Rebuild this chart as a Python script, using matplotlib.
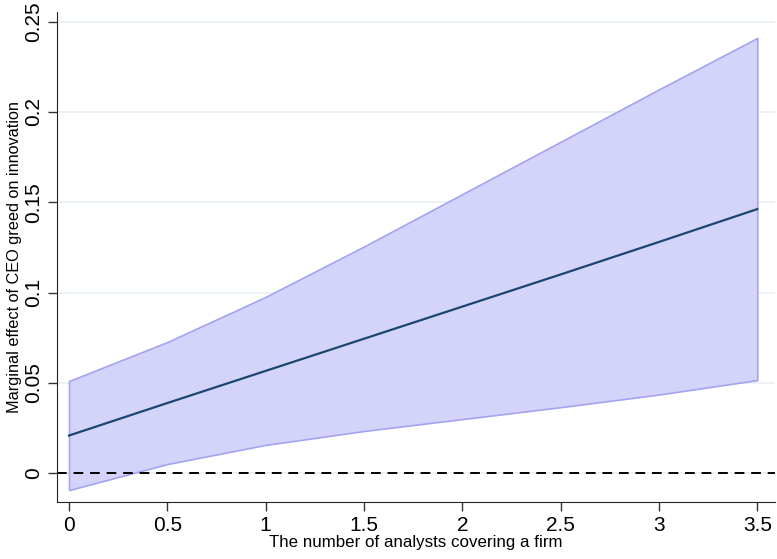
import matplotlib.pyplot as plt

plt.rcParams['font.family'] = ['Liberation Sans Narrow', 'Liberation Sans', 'DejaVu Sans']

# analyst coverage values and marginal effect with 95% CI
x = [0, 0.5, 1, 1.5, 2, 2.5, 3, 3.5]
effect = [0.0208, 0.0388, 0.0566, 0.0744, 0.0922, 0.1100, 0.1280, 0.1462]
upper = [0.0510, 0.0726, 0.0976, 0.1255, 0.1545, 0.1835, 0.2125, 0.2410]
lower = [-0.0094, 0.0050, 0.0156, 0.0233, 0.0299, 0.0365, 0.0435, 0.0515]

xticks = [0, 0.5, 1, 1.5, 2, 2.5, 3, 3.5]
xticklabels = ['0', '0.5', '1', '1.5', '2', '2.5', '3', '3.5']
yticks = [0, 0.05, 0.1, 0.15, 0.2, 0.25]
yticklabels = ['0', '0.05', '0.1', '0.15', '0.2', '0.25']

fig = plt.figure(figsize=(7.77, 5.59), dpi=100)
ax = fig.add_axes([0.0734, 0.102, 0.924, 0.877])

# grid
for y in yticks:
    ax.axhline(y, color='#e8f0f2', lw=1.2, zorder=0)

ax.fill_between(x, lower, upper, facecolor='#d4d4fa', edgecolor='#a3a3f2', lw=1.2, zorder=1)
ax.plot(x, effect, color='#1a476f', lw=1.6, zorder=2)
ax.axhline(0, color='black', lw=1.4, ls=(0, (5, 3.5)), zorder=3)

ax.set_xlim(-0.061, 3.59)
ax.set_ylim(-0.016, 0.2555)
ax.set_xticks(xticks)
ax.set_xticklabels(xticklabels, fontsize=15)
ax.set_yticks(yticks)
ax.set_yticklabels(yticklabels, fontsize=15, rotation=90, va='center')
ax.tick_params(direction='out', length=6.5, width=1, color='#333333', pad=3.5)

ax.spines['top'].set_visible(False)
ax.spines['right'].set_visible(False)
ax.spines['left'].set_color('#222222')
ax.spines['bottom'].set_color('#222222')

ax.set_xlabel('The number of analysts covering a firm', fontsize=12.2, labelpad=0)
ax.set_ylabel('Marginal effect of CEO greed on innovation', fontsize=11.7, labelpad=1.5)

plt.savefig('out.png', dpi=100)
